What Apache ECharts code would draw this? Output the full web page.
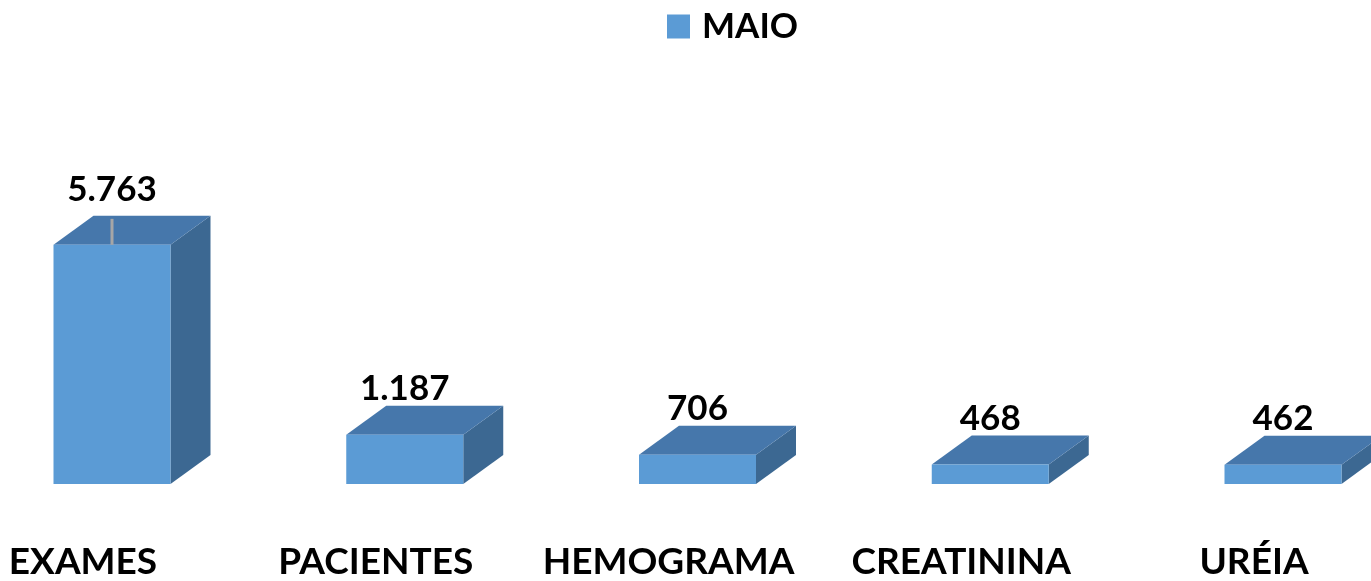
<!DOCTYPE html>
<html>
<head>
<meta charset="utf-8">
<script src="https://cdn.jsdelivr.net/npm/echarts@6/dist/echarts.min.js"></script>
<style>
  html, body { margin: 0; padding: 0; background: #fff; }
  #chart { width: 1371px; height: 581px; }
</style>
</head>
<body>
<div id="chart"></div>
<script>
// ---- data ----
const categories = ['EXAMES', 'PACIENTES', 'HEMOGRAMA', 'CREATININA', 'URÉIA'];
const seriesName = 'MAIO';
const maioValues = [5763, 1187, 706, 468, 462];

// ---- style ----
const FRONT = '#5B9BD5';
const TOP = '#4677AB';
const SIDE = '#3C6892';
const BAR_W = 117;      // front face width (px)
const SHIFT = 29;       // front face centre offset from category tick (px)
const DX = 40, DY = 29; // 3D depth offsets (px)
const LABEL_GAP = 17;   // label centre above back-top edge
const LABEL_LIFT = [9, 0, 0, 0, 0]; // manually moved labels (px)
const FONT = 'Lato';

function fmt(v) {
  return String(v).replace(/\B(?=(\d{3})+(?!\d))/g, '.');
}

const chart = echarts.init(document.getElementById('chart'), null, { renderer: 'canvas' });

const option = {
  animation: false,
  backgroundColor: '#ffffff',
  legend: {
    data: [{ name: seriesName, icon: 'rect' }],
    left: 662,
    top: 4,
    itemWidth: 23,
    itemHeight: 24,
    textStyle: {
      fontFamily: FONT, fontWeight: 'bold', fontSize: 35, color: '#000',
      padding: [0, 0, 0, 7]
    }
  },
  grid: { left: 83, right: 117, top: 193.5, bottom: 87.5, containLabel: false },
  xAxis: {
    type: 'category',
    data: categories,
    boundaryGap: false,
    axisLine: { show: false },
    axisTick: { show: false },
    splitLine: { show: false },
    axisLabel: {
      margin: 60,
      interval: 0,
      color: '#000',
      fontFamily: FONT,
      fontWeight: 'bold',
      fontSize: 37
    }
  },
  yAxis: {
    type: 'value',
    min: 0,
    max: 7000,
    show: false,
    splitLine: { show: false }
  },
  series: [{
    name: seriesName,
    type: 'custom',
    itemStyle: { color: FRONT },
    encode: { x: 0, y: 1 },
    data: maioValues.map((v, i) => [i, v]),
    renderItem: function (params, api) {
      const i = params.dataIndex;
      const base = api.coord([api.value(0), 0]);
      const topPt = api.coord([api.value(0), api.value(1)]);
      const cx = base[0] + SHIFT;
      const x0 = cx - BAR_W / 2, x1 = cx + BAR_W / 2;
      const yb = base[1], yt = topPt[1];
      const lift = LABEL_LIFT[i] || 0;
      const children = [
        {
          type: 'polygon',
          shape: { points: [[x1, yt], [x1 + DX, yt - DY], [x1 + DX, yb - DY], [x1, yb]] },
          style: { fill: SIDE }
        },
        {
          type: 'polygon',
          shape: { points: [[x0, yt], [x0 + DX, yt - DY], [x1 + DX, yt - DY], [x1, yt]] },
          style: { fill: TOP }
        },
        {
          type: 'rect',
          shape: { x: x0, y: yt, width: BAR_W, height: yb - yt },
          style: { fill: FRONT }
        },
        {
          type: 'text',
          style: {
            text: fmt(maioValues[i]),
            x: cx,
            y: yt - DY - LABEL_GAP - lift,
            align: 'center',
            verticalAlign: 'middle',
            fill: '#000',
            font: 'bold 35px ' + FONT
          }
        }
      ];
      if (lift > 0) {
        children.push({
          type: 'line',
          shape: { x1: cx, y1: yt - DY + 3, x2: cx, y2: yt },
          style: { stroke: '#A6A6A6', lineWidth: 3 }
        });
      }
      return { type: 'group', children: children };
    }
  }]
};

chart.setOption(option);
</script>
</body>
</html>
